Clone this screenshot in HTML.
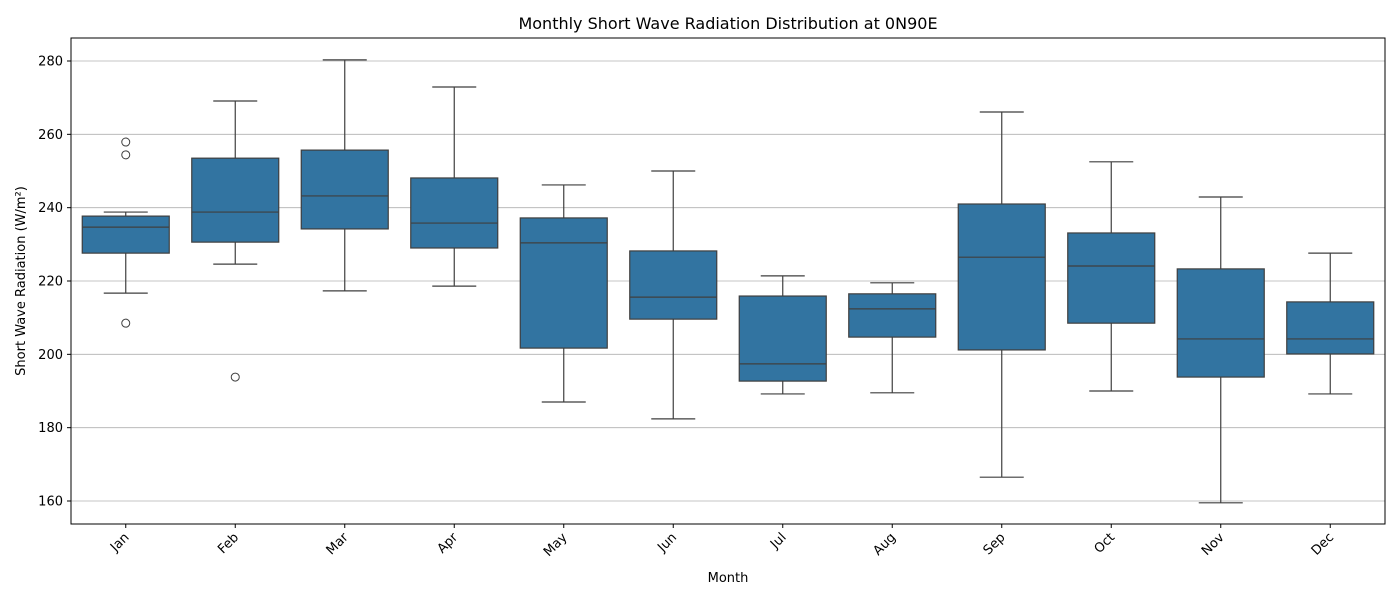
<!DOCTYPE html>
<html><head><meta charset="utf-8"><style>
body{margin:0;background:#fff;font-family:"Liberation Sans","DejaVu Sans",sans-serif;}
svg text{font-family:"DejaVu Sans","Liberation Sans",sans-serif;}
</style></head><body>
<svg id="chart" width="1400" height="600" xmlns="http://www.w3.org/2000/svg">
<text x="728" y="29" font-size="16" text-anchor="middle" fill="#000">Monthly Short Wave Radiation Distribution at 0N90E</text>
<g id="grid"></g>
<g id="boxes"></g>
<rect x="71" y="38" width="1314" height="486" fill="none" stroke="#000" stroke-width="1"/>
<g id="yaxis"></g>
<g id="xaxis"></g>
<text x="728" y="582" font-size="13" text-anchor="middle">Month</text>
<text transform="translate(25,281) rotate(-90)" font-size="13" text-anchor="middle">Short Wave Radiation (W/m²)</text>
</svg>
<script>
const months=["Jan","Feb","Mar","Apr","May","Jun","Jul","Aug","Sep","Oct","Nov","Dec"];
const whiskerLow=[216.7,224.6,217.3,218.6,187.0,182.4,189.2,189.5,166.5,190.0,159.5,189.2];
const q1=[227.6,230.6,234.2,229.0,201.7,209.6,192.7,204.7,201.2,208.5,193.8,200.1];
const medians=[234.7,238.8,243.2,235.8,230.4,215.6,197.4,212.4,226.5,224.1,204.2,204.2];
const q3=[237.7,253.5,255.7,248.1,237.2,228.2,215.9,216.5,241.0,233.1,223.3,214.3];
const whiskerHigh=[238.8,269.1,280.3,272.9,246.2,250.0,221.4,219.5,266.1,252.5,242.9,227.6];
const outliers=[[257.9,254.4,208.5],[193.8],[],[],[],[],[],[],[],[],[],[]];
const yTicks=[160,180,200,220,240,260,280];

const NS="http://www.w3.org/2000/svg";
const L=71,R=1385,T=38,B=524;
function y(v){return 501-(v-160)*(440/120);}
function x(i){return L+(R-L)/months.length*(i+0.5);}
function mk(tag,attrs,parent){const e=document.createElementNS(NS,tag);for(const k in attrs)e.setAttribute(k,attrs[k]);parent.appendChild(e);return e;}
const grid=document.getElementById('grid'),boxes=document.getElementById('boxes'),ya=document.getElementById('yaxis'),xa=document.getElementById('xaxis');
yTicks.forEach(t=>{
  const g=mk('line',{x1:L,x2:R,y1:y(t),y2:y(t),stroke:'#b0b0b0','stroke-width':0.8},grid);
  
  
  const tk=mk('line',{x1:L-4,x2:L,y1:y(t),y2:y(t),stroke:'#000'},ya);
  
  
  const tx=mk('text',{x:L-8,y:y(t)+4.5,'font-size':13,'text-anchor':'end'},ya);
  tx.textContent=t;
  
  
});
const bw=87,cw=44,ec='#3f3f3f';
months.forEach((m,i)=>{
  const cx=x(i);
  const g=mk('g',{},boxes);
  
  
  mk('line',{x1:cx,x2:cx,y1:y(whiskerHigh[i]),y2:y(q3[i]),stroke:ec,'stroke-width':1.2},g);
  mk('line',{x1:cx,x2:cx,y1:y(q1[i]),y2:y(whiskerLow[i]),stroke:ec,'stroke-width':1.2},g);
  mk('line',{x1:cx-cw/2,x2:cx+cw/2,y1:y(whiskerHigh[i]),y2:y(whiskerHigh[i]),stroke:ec,'stroke-width':1.2},g);
  mk('line',{x1:cx-cw/2,x2:cx+cw/2,y1:y(whiskerLow[i]),y2:y(whiskerLow[i]),stroke:ec,'stroke-width':1.2},g);
  mk('rect',{x:cx-bw/2,y:y(q3[i]),width:bw,height:y(q1[i])-y(q3[i]),fill:'#3274a1',stroke:ec,'stroke-width':1.2},g);
  mk('line',{x1:cx-bw/2,x2:cx+bw/2,y1:y(medians[i]),y2:y(medians[i]),stroke:ec,'stroke-width':1.2},g);
  outliers[i].forEach(o=>{
    const c=mk('circle',{cx:cx,cy:y(o),r:4,fill:'none',stroke:ec,'stroke-width':1},g);
    
    
  });
  const tk=mk('line',{x1:cx,x2:cx,y1:B,y2:B+4,stroke:'#000'},xa);
  
  
  const tx=mk('text',{transform:`translate(${cx+4},${B+14}) rotate(-45)`,'font-size':13,'text-anchor':'end'},xa);
  tx.textContent=m;
  
  
});
</script>
</body></html>
